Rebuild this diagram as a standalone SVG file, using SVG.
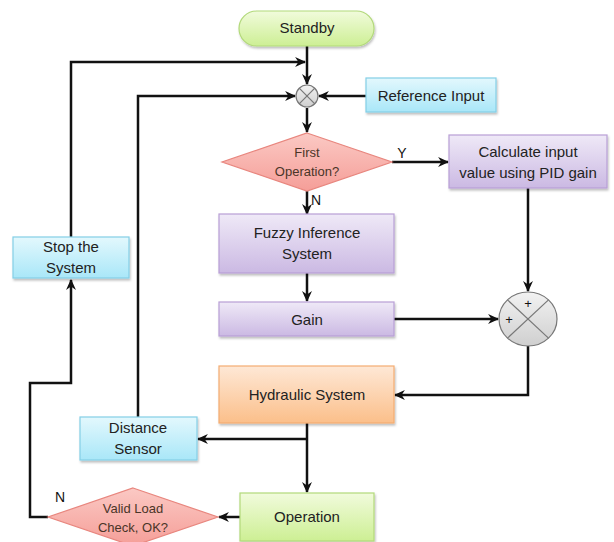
<svg xmlns="http://www.w3.org/2000/svg" width="614" height="542" viewBox="0 0 614 542">
<defs>
<linearGradient id="gGreen" x1="0" y1="0" x2="0" y2="1"><stop offset="0" stop-color="#f1fbdc"/><stop offset="1" stop-color="#cdef94"/></linearGradient>
<linearGradient id="gBlue" x1="0" y1="0" x2="0" y2="1"><stop offset="0" stop-color="#e3f8fd"/><stop offset="1" stop-color="#a9e7f8"/></linearGradient>
<linearGradient id="gPurple" x1="0" y1="0" x2="0" y2="1"><stop offset="0" stop-color="#efe9f7"/><stop offset="1" stop-color="#cbb9e3"/></linearGradient>
<linearGradient id="gOrange" x1="0" y1="0" x2="0" y2="1"><stop offset="0" stop-color="#fee8d6"/><stop offset="1" stop-color="#fbbf8a"/></linearGradient>
<linearGradient id="gPink" x1="0" y1="0" x2="0" y2="1"><stop offset="0" stop-color="#fbc9c4"/><stop offset="1" stop-color="#f59e98"/></linearGradient>
<linearGradient id="gGray" x1="0" y1="0" x2="0" y2="1"><stop offset="0" stop-color="#f2f2f2"/><stop offset="1" stop-color="#cfcfcf"/></linearGradient>
<filter id="sh" x="-10%" y="-10%" width="130%" height="140%"><feDropShadow dx="1" dy="2" stdDeviation="1.2" flood-color="#000" flood-opacity="0.25"/></filter>
<marker id="arr" viewBox="0 0 10 10" refX="9" refY="5" markerWidth="5" markerHeight="5" orient="auto" markerUnits="userSpaceOnUse">
<path d="M0,0 L10,5 L0,10 L3,5 z" fill="#111"/>
</marker>
<marker id="ah" viewBox="0 0 10 10" refX="9" refY="5" markerWidth="11" markerHeight="11" orient="auto" markerUnits="userSpaceOnUse">
<path d="M0,0.5 L10,5 L0,9.5 L3,5 z" fill="#111"/>
</marker>
</defs>
<style>
.t{font-family:"Liberation Sans",Arial,sans-serif;font-size:15px;fill:#222;text-anchor:middle}
.d{font-family:"Liberation Sans",Arial,sans-serif;font-size:13px;fill:#4a3528;text-anchor:middle}
.l{font-family:"Liberation Sans",Arial,sans-serif;font-size:14px;fill:#111;text-anchor:middle}
.s{font-family:"Liberation Sans",Arial,sans-serif;font-size:13px;fill:#111;text-anchor:middle}
.c{fill:none;stroke:#111;stroke-width:2.5}
.ca{fill:none;stroke:#111;stroke-width:2.5;marker-end:url(#ah)}
.green{fill:url(#gGreen);stroke:#b2d97a;stroke-width:1.2;filter:url(#sh)}
.blue{fill:url(#gBlue);stroke:#84cfe6;stroke-width:1.2;filter:url(#sh)}
.purple{fill:url(#gPurple);stroke:#b89fd6;stroke-width:1.2;filter:url(#sh)}
.orange{fill:url(#gOrange);stroke:#f3ac72;stroke-width:1.2;filter:url(#sh)}
.pink{fill:url(#gPink);stroke:#e8867e;stroke-width:1.2}
.sum{fill:url(#gGray);stroke:#777;stroke-width:1.2}
.x{stroke:#777;stroke-width:1.2}
</style>

<g id="connectors">
<path class="ca" d="M307,46 V84"/>
<path class="ca" d="M71,237 V62 H305"/>
<path class="ca" d="M138,417 V96 H295"/>
<path class="ca" d="M366,96 H319"/>
<path class="ca" d="M307,108 V132"/>
<path class="ca" d="M392,162 H448"/>
<path class="ca" d="M307,191 V214"/>
<path class="ca" d="M307,273 V301"/>
<path class="ca" d="M394,319 H498"/>
<path class="ca" d="M528,188 V291"/>
<path class="ca" d="M528,346 V395 H395"/>
<path class="ca" d="M307,423 V492"/>
<path class="ca" d="M307,439 H198"/>
<path class="ca" d="M240,517 H219"/>
<path class="ca" d="M48,517 H30 V383 H71 V280"/>
</g>

<g id="standby">
<rect class="green" x="239" y="11" width="135" height="35" rx="17.5"/>
<text class="t" x="307" y="33">Standby</text>
</g>

<g id="sum1">
<circle class="sum" cx="307" cy="96" r="11"/>
<line class="x" x1="299.2" y1="88.2" x2="314.8" y2="103.8"/>
<line class="x" x1="314.8" y1="88.2" x2="299.2" y2="103.8"/>
</g>

<g id="reference-input">
<rect class="blue" x="366" y="78" width="130" height="34"/>
<text class="t" x="431" y="101">Reference Input</text>
</g>

<g id="first-operation">
<polygon class="pink" points="307,133 392,162 307,191 222,162"/>
<text class="d" x="307" y="157">First</text>
<text class="d" x="307" y="176">Operation?</text>
</g>
<text class="l" x="402" y="158">Y</text>
<text class="l" x="316" y="205">N</text>

<g id="calculate">
<rect class="purple" x="449" y="135" width="158" height="53"/>
<text class="t" x="528" y="157">Calculate input</text>
<text class="t" x="528" y="178">value using PID gain</text>
</g>

<g id="fuzzy">
<rect class="purple" x="219" y="214" width="175" height="59"/>
<text class="t" x="307" y="238">Fuzzy Inference</text>
<text class="t" x="307" y="259">System</text>
</g>

<g id="gain">
<rect class="purple" x="219" y="302" width="175" height="34"/>
<text class="t" x="307" y="325">Gain</text>
</g>

<g id="sum2">
<ellipse class="sum" cx="528" cy="319" rx="29" ry="27"/>
<line class="x" x1="507.5" y1="299.9" x2="548.5" y2="338.1"/>
<line class="x" x1="548.5" y1="299.9" x2="507.5" y2="338.1"/>
<text class="s" x="528" y="308">+</text>
<text class="s" x="509" y="324">+</text>
</g>

<g id="hydraulic">
<rect class="orange" x="219" y="366" width="175" height="57"/>
<text class="t" x="307" y="400">Hydraulic System</text>
</g>

<g id="distance-sensor">
<rect class="blue" x="80" y="417" width="117" height="43"/>
<text class="t" x="138" y="433">Distance</text>
<text class="t" x="138" y="454">Sensor</text>
</g>

<g id="stop">
<rect class="blue" x="13" y="237" width="116" height="41"/>
<text class="t" x="71" y="252">Stop the</text>
<text class="t" x="71" y="273">System</text>
</g>

<g id="operation">
<rect class="green" x="240" y="493" width="134" height="48"/>
<text class="t" x="307" y="522">Operation</text>
</g>

<g id="valid-load">
<polygon class="pink" points="133,488 218,517 133,546 48,517"/>
<text class="d" x="133" y="513">Valid Load</text>
<text class="d" x="133" y="532">Check, OK?</text>
</g>
<text class="l" x="60" y="502">N</text>
</svg>
